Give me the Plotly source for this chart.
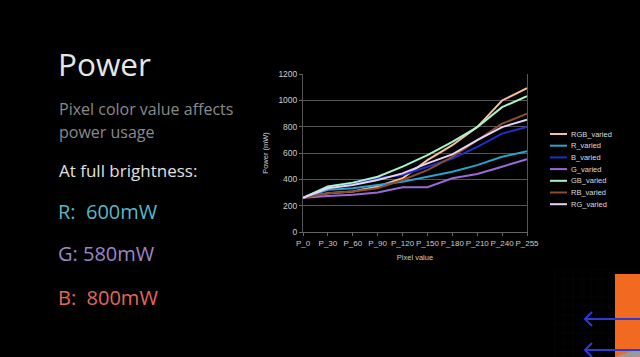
import plotly.graph_objects as go

categories = ["P_0", "P_30", "P_60", "P_90", "P_120", "P_150", "P_180", "P_210", "P_240", "P_255"]

rgb_varied = [260, 295, 307, 345, 408, 546, 659, 797, 999, 1092]
r_varied   = [260, 320, 332, 357, 382, 420, 458, 508, 571, 614]
b_varied   = [260, 345, 370, 408, 433, 496, 558, 647, 747, 797]
g_varied   = [260, 274, 282, 300, 340, 340, 408, 440, 496, 553]
gb_varied  = [260, 345, 375, 420, 496, 584, 684, 797, 948, 1031]
rb_varied  = [260, 294, 307, 332, 395, 470, 571, 697, 823, 898]
rg_varied  = [260, 332, 357, 395, 445, 521, 589, 697, 797, 853]

series_names = ["RGB_varied", "R_varied", "B_varied", "G_varied", "GB_varied", "RB_varied", "RG_varied"]
series_values = [rgb_varied, r_varied, b_varied, g_varied, gb_varied, rb_varied, rg_varied]
series_colors = ["#f7c09a", "#2aa3cc", "#1f2fc8", "#9b6ad8", "#a8f5c8", "#8a4b32", "#e4d4f6"]

y_ticks = [0, 200, 400, 600, 800, 1000, 1200]

W, H = 640, 357
PL, PR, PT, PB = 303, 527, 74, 232


def px(X):
    return (X - PL) / (PR - PL)


def py(Y):
    return (PB - Y) / (PB - PT)


fig = go.Figure()
for name, vals, col in zip(series_names, series_values, series_colors):
    fig.add_trace(go.Scatter(x=categories, y=vals, name=name, mode="lines",
                             line=dict(color=col, width=2), showlegend=False))

font_ui = "'Open Sans', sans-serif"
chart_font = "'Liberation Sans', Arial, sans-serif"

fig.update_layout(
    width=W, height=H,
    margin=dict(l=PL, r=W - PR, t=PT, b=H - PB),
    paper_bgcolor="#000000", plot_bgcolor="#000000",
    font=dict(family=chart_font, color="#cccccc", size=8),
    showlegend=False,
    xaxis=dict(type="category", showgrid=False, zeroline=False,
               showline=True, linecolor="#666666", linewidth=1,
               ticks="outside", ticklen=3, tickcolor="#666666", tickangle=0,
               tickfont=dict(size=8, color="#cccccc"),
               title=dict(text="Pixel value", font=dict(size=7.5, color="#cccccc"), standoff=8),
               range=[0, 9]),
    yaxis=dict(range=[0, 1200], tickvals=y_ticks, showgrid=True, gridcolor="#555555",
               gridwidth=1, zeroline=False, showline=True, mirror=True,
               linecolor="#555555", linewidth=1, ticks="outside", ticklen=3,
               tickcolor="#666666", tickfont=dict(size=8.5, color="#cccccc"),
               title=dict(text="Power (mW)", font=dict(size=7.5, color="#cccccc"), standoff=8)),
)

# legend drawn as entries beside the plot
shapes = []
LEG_X, LEG_Y0, LEG_DY = 550, 134, 11.7
for i, (name, col) in enumerate(zip(series_names, series_colors)):
    yy = LEG_Y0 + i * LEG_DY
    shapes.append(dict(type="line", xref="paper", yref="paper", x0=px(LEG_X), x1=px(LEG_X + 17),
                       y0=py(yy), y1=py(yy), line=dict(color=col, width=2)))
    fig.add_annotation(text=name, x=px(LEG_X + 19), y=py(yy), xref="paper", yref="paper",
                       xanchor="left", yanchor="middle", showarrow=False,
                       font=dict(family=chart_font, size=7.5, color="#dddddd"))

texts = [
    ("Power", 56, 63, 31.5, "#e6e6e6"),
    ("Pixel color value affects", 57, 109, 16, "#8a8a8a"),
    ("power usage", 57, 132, 16, "#8a8a8a"),
    ("At full brightness:", 57, 170, 17, "#e0e0e0"),
    ("R:  600mW", 56, 211, 20, "#5bb7c6"),
    ("G: 580mW", 56, 253, 20, "#9c86c9"),
    ("B:  800mW", 56, 297, 20, "#e2685c"),
]
for t, X, Y, s, c in texts:
    fig.add_annotation(text=t, x=px(X), y=py(Y), xref="paper", yref="paper",
                       xanchor="left", yanchor="middle", showarrow=False,
                       font=dict(family=font_ui, size=s, color=c))

# decorative slide elements bottom-right
for gx in range(555, 641, 9):
    shapes.append(dict(type="line", xref="paper", yref="paper", x0=px(gx), x1=px(gx),
                       y0=py(270), y1=py(357), line=dict(color="#050508", width=1), layer="below"))
for gy in range(270, 358, 9):
    shapes.append(dict(type="line", xref="paper", yref="paper", x0=px(555), x1=px(640),
                       y0=py(gy), y1=py(gy), line=dict(color="#050508", width=1), layer="below"))
shapes.append(dict(type="rect", xref="paper", yref="paper", x0=px(615), x1=px(641),
                   y0=py(274), y1=py(358), fillcolor="#f26a21", line=dict(width=0)))
shapes.append(dict(type="path", xref="paper", yref="paper",
                   path=f"M {px(612)} {py(358)} L {px(641)} {py(348)} L {px(641)} {py(358)} Z",
                   fillcolor="#9a9a9a", line=dict(width=0)))
for ay in (319, 350):
    shapes.append(dict(type="line", xref="paper", yref="paper", x0=px(585), x1=px(641),
                       y0=py(ay), y1=py(ay), line=dict(color="#2b3bd6", width=2)))
    shapes.append(dict(type="path", xref="paper", yref="paper",
                       path=f"M {px(592)} {py(ay-7)} L {px(585)} {py(ay)} L {px(592)} {py(ay+7)}",
                       line=dict(color="#2b3bd6", width=2)))
fig.update_layout(shapes=shapes)

fig.write_html("out.html", config={"displayModeBar": False},
               post_script="document.body.style.margin='0';document.body.style.background='#000';")
